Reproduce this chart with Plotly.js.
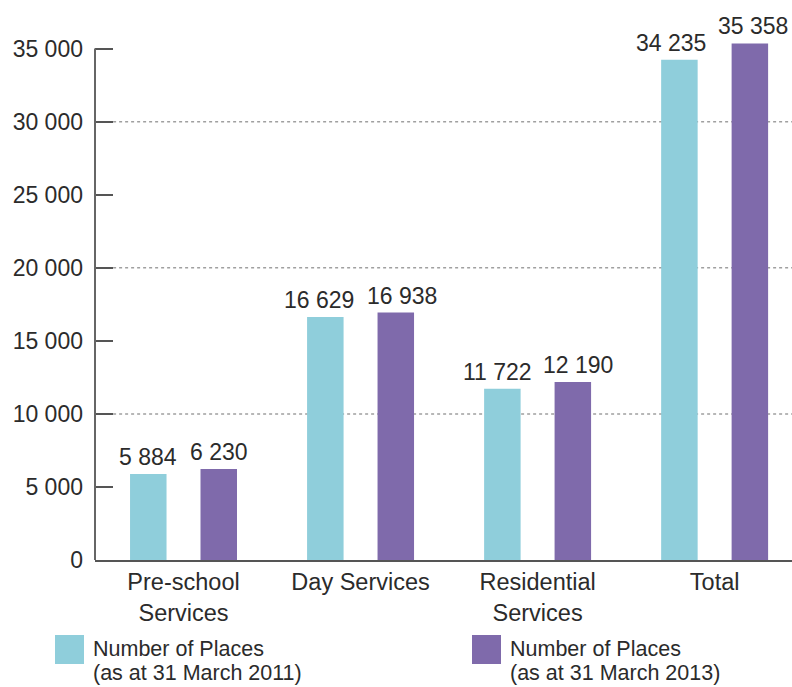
<!DOCTYPE html>
<html>
<head>
<meta charset="utf-8">
<script src="https://cdn.plot.ly/plotly-3.0.1.min.js"></script>
<style>
  html, body { margin: 0; padding: 0; background: #ffffff; }
  #chart { width: 792px; height: 687px; }
</style>
</head>
<body>
<div id="chart"></div>
<script>
// ---- Data ----
const categories = ["Pre-school<br>Services", "Day Services", "Residential<br>Services", "Total"];
const places2011 = [5884, 16629, 11722, 34235];
const places2013 = [6230, 16938, 12190, 35358];
const seriesNames = ["Number of Places<br>(as at 31 March 2011)", "Number of Places<br>(as at 31 March 2013)"];
const yTickValues = [0, 5000, 10000, 15000, 20000, 25000, 30000, 35000];
const gridValues = [10000, 20000, 30000];

// ---- Styles ----
const cyan = "#8fcedb";
const purple = "#7f6aab";
const textColor = "#2b2b2b";
const fontFamily = "'Liberation Sans', Arial, Helvetica, sans-serif";
const bargap = 0.204, bargroupgap = 0.482;
const slotHalf = (1 - bargap) / 4;          // centre offset of each bar within its group
const nudge2011 = [0, -6, -5, -8];          // small label nudges (px) to keep neighbouring labels apart
const nudge2013 = [0, 6, 5, 3];

const xIdx = categories.map((c, i) => i);

const traces = [
  {
    type: "bar", name: seriesNames[0].replace("<br>", " "), x: xIdx, y: places2011,
    marker: { color: cyan }, hoverinfo: "y", showlegend: false
  },
  {
    type: "bar", name: seriesNames[1].replace("<br>", " "), x: xIdx, y: places2013,
    marker: { color: purple }, hoverinfo: "y", showlegend: false
  }
];

const fmt = v => String(v).replace(/\B(?=(\d{3})+(?!\d))/g, " ");

const annotations = [];
// value labels above bars
[[places2011, -1, nudge2011], [places2013, 1, nudge2013]].forEach(([vals, side, nudge]) => {
  vals.forEach((v, i) => annotations.push({
    xref: "x", yref: "y", x: i + side * slotHalf, y: v,
    xanchor: "center", yanchor: "bottom", yshift: 2, xshift: nudge[i],
    showarrow: false, text: fmt(v),
    font: { size: 23, color: textColor, family: fontFamily }
  }));
});

const shapes = [];
// dotted gridlines
gridValues.forEach(v => shapes.push({
  type: "line", xref: "paper", yref: "y", x0: 0.026, x1: 1, y0: v, y1: v,
  line: { color: "#a0a0a0", width: 1.5, dash: "dot" }, layer: "below"
}));
// y axis line (only up to 35 000)
shapes.push({
  type: "line", xref: "paper", yref: "y", x0: 0, x1: 0, y0: 0, y1: yTickValues[yTickValues.length - 1],
  line: { color: "#666666", width: 2 }
});

// custom legend (swatches + two text lines each)
const legendItems = [
  { color: cyan, x: 55, text: seriesNames[0] },
  { color: purple, x: 472, text: seriesNames[1] }
];
const W = 697, H = 526, L = 95, AX = 560;
legendItems.forEach(it => {
  shapes.push({
    type: "rect", xref: "paper", yref: "paper",
    x0: (it.x - L) / W, x1: (it.x + 29 - L) / W,
    y0: (AX - 664) / H, y1: (AX - 635) / H,
    fillcolor: it.color, line: { width: 0 }
  });
  it.text.split("<br>").forEach((line, k) => annotations.push({
    xref: "paper", yref: "paper", x: (it.x + 36 - L) / W, y: (AX - (649 + k * 24)) / H,
    xanchor: "left", yanchor: "middle", align: "left", showarrow: false,
    text: line, font: { size: 21.5, color: textColor, family: fontFamily }
  }));
});

const layout = {
  width: 792, height: 687,
  margin: { l: 95, r: 0, t: 34, b: 127 },
  paper_bgcolor: "#ffffff", plot_bgcolor: "#ffffff",
  separators: ". ",
  font: { family: fontFamily, size: 22, color: textColor },
  barmode: "group", bargap: bargap, bargroupgap: bargroupgap,
  showlegend: false,
  xaxis: {
    range: [-0.5, 3.437], tickvals: xIdx, ticktext: categories,
    showgrid: false, zeroline: false, showline: true, linecolor: "#555555", linewidth: 2,
    ticks: "", ticklabelstandoff: 0, tickfont: { size: 23.5, color: textColor }, fixedrange: true
  },
  yaxis: {
    range: [0, 36000], tickvals: yTickValues, tickformat: ",d",
    showgrid: false, zeroline: false, showline: false,
    ticks: "inside", ticklen: 18, tickwidth: 2, tickcolor: "#555555",
    ticklabelstandoff: 11,
    tickfont: { size: 23, color: textColor }, fixedrange: true
  },
  shapes: shapes,
  annotations: annotations
};

Plotly.newPlot("chart", traces, layout, { displayModeBar: false, staticPlot: true });
</script>
</body>
</html>
